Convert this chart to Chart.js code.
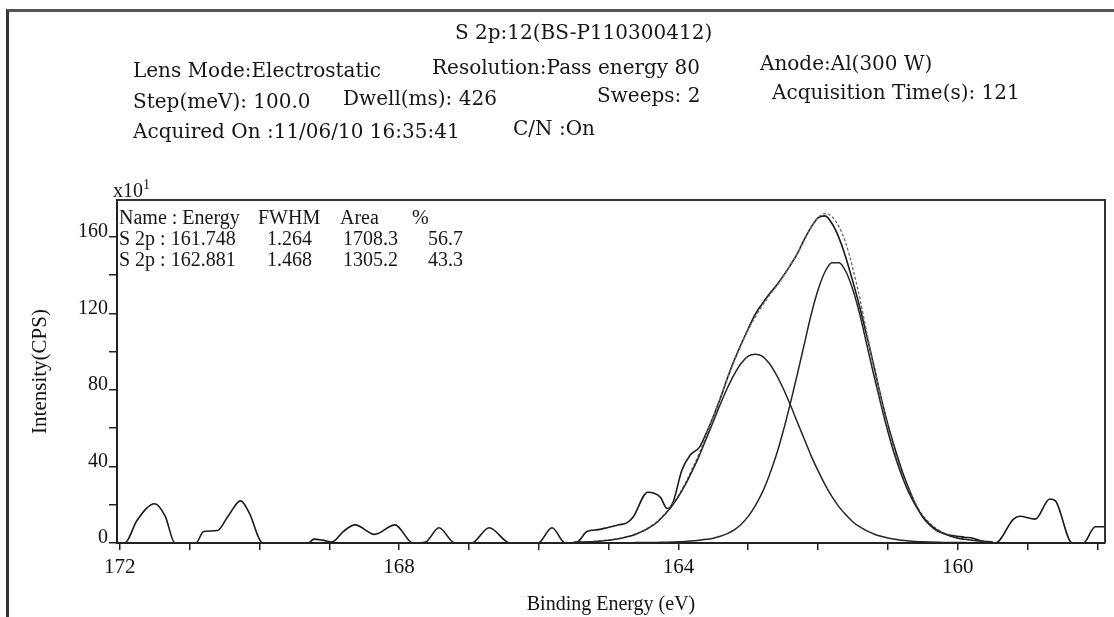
<!DOCTYPE html>
<html>
<head>
<meta charset="UTF-8">
<title>S 2p XPS spectrum</title>
<style>
    html, body {
        margin: 0;
        padding: 0;
        background: #fff;
    }
    body {
        width: 1114px;
        height: 617px;
        position: relative;
        overflow: hidden;
        font-family: 'Liberation Serif', 'DejaVu Serif', serif;
        color: #161616;
    }
    #frame {
        position: absolute;
        left: 6px;
        top: 9px;
        width: 1120px;
        height: 620px;
        border-top: 3px solid #555;
        border-left: 3px solid #333;
    }
    .t {
        position: absolute;
        white-space: nowrap;
        font-family: 'DejaVu Serif', serif;
        font-size: 20px;
        line-height: 1;
    }
    .n {
        position: absolute;
        white-space: nowrap;
        font-size: 20px;
        line-height: 1;
    }
    #chartBox {
        position: absolute;
        left: 0;
        top: 0;
    }
</style>
<script src="https://cdn.jsdelivr.net/npm/chart.js"></script>
</head>
<body>

<div id="frame"></div>

<div id="chartBox">
    <canvas id="xpsChart" width="1114" height="617"></canvas>
</div>

<!-- acquisition header -->
<div class="t" style="left:455px; top:22px;">S 2p:12(BS-P110300412)</div>
<div class="t" style="left:133px; top:60px;">Lens Mode:Electrostatic</div>
<div class="t" style="left:432px; top:57px;">Resolution:Pass energy 80</div>
<div class="t" style="left:760px; top:53px;">Anode:Al(300 W)</div>
<div class="t" style="left:133px; top:91px;">Step(meV): 100.0</div>
<div class="t" style="left:343px; top:88px;">Dwell(ms): 426</div>
<div class="t" style="left:597px; top:85px;">Sweeps: 2</div>
<div class="t" style="left:772px; top:82px;">Acquisition Time(s): 121</div>
<div class="t" style="left:133px; top:121px;">Acquired On :11/06/10 16:35:41</div>
<div class="t" style="left:513px; top:118px;">C/N :On</div>

<div class="n" style="left:113px; top:178px;">x10<sup style="font-size:14px;">1</sup></div>

<!-- peak table -->
<div class="n" style="left:119px; top:207px;">Name : Energy</div>
<div class="n" style="left:258px; top:207px;">FWHM</div>
<div class="n" style="left:340px; top:207px;">Area</div>
<div class="n" style="left:412px; top:207px;">%</div>
<div class="n" style="left:119px; top:228px;">S 2p : 161.748</div>
<div class="n" style="left:267px; top:228px;">1.264</div>
<div class="n" style="left:343px; top:228px;">1708.3</div>
<div class="n" style="left:428px; top:228px;">56.7</div>
<div class="n" style="left:119px; top:249px;">S 2p : 162.881</div>
<div class="n" style="left:267px; top:249px;">1.468</div>
<div class="n" style="left:343px; top:249px;">1305.2</div>
<div class="n" style="left:428px; top:249px;">43.3</div>

<script>
// measured spectrum (binding energy in eV, counts x10)
const rawEnergy = [
    172.04, 171.93, 171.75, 171.5, 171.35, 171.21, 170.91, 170.8, 170.6, 170.45,
    170.27, 170.15, 169.95, 169.3, 169.22, 169.1, 168.96, 168.8, 168.63, 168.35,
    168.06, 167.8, 167.62, 167.43, 167.2, 166.96, 166.71, 166.41, 166.01, 165.81,
    165.62, 165.45, 165.31, 165.15, 165.02, 164.85, 164.74, 164.65, 164.44, 164.26,
    164.16, 164.08, 163.95, 163.83, 163.7, 163.6, 163.5, 163.4, 163.3, 163.2,
    163.1, 163.0, 162.9, 162.8, 162.7, 162.6, 162.5, 162.4, 162.3, 162.2,
    162.1, 162.0, 161.9, 161.8, 161.7, 161.6, 161.5, 161.4, 161.3, 161.2,
    161.1, 161.0, 160.9, 160.8, 160.7, 160.6, 160.5, 160.4, 160.3, 160.2,
    160.1, 160.0, 159.9, 159.78, 159.62, 159.46, 159.2, 159.11, 158.89, 158.68,
    158.6, 158.36, 158.2, 158.03, 157.89
];
const rawCounts = [
    0, 0, 12, 20.5, 14, 0, 0, 6, 6.5, 14,
    22, 16, 0, 0, 2, 1.5, 0.5, 6, 9.5, 4.5,
    9.5, 0, 0.5, 8, 0, 0, 8, 0, 0, 8,
    0, 0.5, 6, 7, 8, 9.5, 10.5, 13.5, 26.5, 24,
    18, 21, 38, 46, 50, 57.5, 66, 75.5, 86, 95.5,
    104, 112, 119.5, 125, 130, 134.5, 139.5, 145, 151, 158.5,
    165, 170, 171, 167, 159.5, 149, 136.5, 123, 108, 92.5,
    76.5, 62, 49.5, 38, 28.5, 20, 13.5, 9.5, 6.5, 5,
    4, 3.5, 3, 2.5, 0.5, 0, 12.5, 14, 12.5, 23,
    22, 0, 0, 8.5, 8.5
];

// fitted curves
const fitEnergy = [
    165.5, 165.4, 165.3, 165.2, 165.1, 165.0, 164.9, 164.8, 164.7, 164.6,
    164.5, 164.4, 164.3, 164.2, 164.1, 164.0, 163.9, 163.8, 163.7, 163.6,
    163.5, 163.4, 163.3, 163.2, 163.1, 163.0, 162.9, 162.8, 162.7, 162.6,
    162.5, 162.4, 162.3, 162.2, 162.1, 162.0, 161.9, 161.8, 161.7, 161.6,
    161.5, 161.4, 161.3, 161.2, 161.1, 161.0, 160.9, 160.8, 160.7, 160.6,
    160.5, 160.4, 160.3, 160.2, 160.1, 160.0, 159.9, 159.8, 159.7, 159.6,
    159.5
];
const peak1 = [   // S 2p 161.748
    0, 0, 0, 0, 0.1, 0.1, 0.1, 0.1, 0.1, 0.2,
    0.2, 0.2, 0.3, 0.4, 0.5, 0.6, 0.8, 1.1, 1.4, 1.9,
    2.5, 3.5, 4.9, 6.9, 9.8, 13.9, 19.4, 26.3, 35.2, 45.7,
    58.3, 72.5, 87.7, 103.4, 119.2, 132.3, 141.8, 146.5, 146.5, 141.8,
    132.3, 119.2, 103.4, 87.7, 72.5, 58.3, 45.7, 35.2, 26.3, 19.4,
    13.9, 9.8, 6.9, 4.9, 3.5, 2.5, 1.9, 1.4, 1.1, 0.8,
    0.6
];
const peak2 = [   // S 2p 162.881
    0.4, 0.5, 0.6, 0.8, 1.1, 1.5, 1.9, 2.6, 3.5, 4.7,
    6.3, 8.4, 11, 14.7, 18.9, 24.2, 30.5, 37.8, 45.7, 54.6,
    63.5, 72.5, 80.9, 88.2, 94, 97.7, 98.7, 97.7, 94, 88.2,
    80.9, 72.5, 63.5, 54.6, 45.7, 37.8, 30.5, 24.2, 18.9, 14.7,
    11, 8.4, 6.3, 4.7, 3.5, 2.6, 1.9, 1.5, 1.1, 0.8,
    0.6, 0.5, 0.4, 0.3, 0.3, 0.2, 0.2, 0.1, 0.1, 0.1,
    0.1
];
const envelope = [
    0.4, 0.5, 0.6, 0.8, 1.2, 1.6, 2.0, 2.7, 3.6, 4.9,
    6.5, 8.6, 11.3, 15, 19.4, 24.8, 31.3, 38.9, 47, 56.5,
    66, 75.9, 85.8, 95.1, 103.7, 111.5, 118.1, 123.9, 129.2, 133.9,
    139.1, 144.9, 151.2, 158, 164.9, 170.1, 172.2, 170.6, 165.4, 156.5,
    143.3, 127.6, 109.7, 92.4, 75.9, 60.9, 47.6, 36.6, 27.3, 20.3,
    14.5, 10.3, 7.4, 5.3, 3.8, 2.7, 2.1, 1.5, 1.2, 0.9,
    0.7
];
const baseEnergy = [172.04, 157.89];
const baseCounts = [0, 0];

const xMajorLabels = [172, 168, 164, 160];
const yMajorLabels = [0, 40, 80, 120, 160];

function pts(xs, ys) {
    return xs.map((x, i) => ({ x: x, y: ys[i] }));
}

const boxPlugin = {
    id: 'box',
    afterDraw(chart) {
        const { ctx, chartArea: a } = chart;
        ctx.save();
        ctx.strokeStyle = '#333';
        ctx.lineWidth = 2;
        ctx.beginPath();
        ctx.moveTo(a.left, a.top);
        ctx.lineTo(a.right, a.top);
        ctx.lineTo(a.right, a.bottom);
        ctx.stroke();
        ctx.restore();
    }
};

const serif = 'Liberation Serif';
const ctx = document.getElementById('xpsChart').getContext('2d');

const xpsChart = new Chart(ctx, {
    type: 'line',
    data: {
        datasets: [
            {
                label: 'baseline',
                data: pts(baseEnergy, baseCounts),
                borderColor: '#222',
                borderWidth: 2
            },
            {
                label: 'S 2p 162.881',
                data: pts(fitEnergy, peak2),
                borderColor: '#262626',
                borderWidth: 1.5
            },
            {
                label: 'S 2p 161.748',
                data: pts(fitEnergy, peak1),
                borderColor: '#262626',
                borderWidth: 1.5
            },
            {
                label: 'envelope',
                data: pts(fitEnergy, envelope),
                borderColor: '#6a6a6a',
                borderWidth: 1.3,
                borderDash: [3, 2]
            },
            {
                label: 'raw',
                data: pts(rawEnergy, rawCounts),
                borderColor: '#1a1a1a',
                borderWidth: 1.6
            }
        ]
    },
    options: {
        responsive: false,
        animation: false,
        layout: {
            padding: { top: 200, right: 9, left: 0, bottom: 0 }
        },
        elements: {
            point: { radius: 0 },
            line: { cubicInterpolationMode: 'monotone', fill: false }
        },
        plugins: {
            legend: { display: false },
            tooltip: { enabled: false }
        },
        scales: {
            x: {
                type: 'linear',
                reverse: true,
                min: 157.89,
                max: 172.04,
                border: { display: true, color: '#222', width: 2 },
                grid: { drawOnChartArea: false, drawTicks: true, tickLength: 7, color: '#222', lineWidth: 1.5 },
                ticks: {
                    autoSkip: false,
                    maxRotation: 0,
                    padding: 5,
                    color: '#111',
                    font: { family: serif, size: 21 },
                    callback: v => xMajorLabels.includes(v) ? String(v) : ''
                },
                afterBuildTicks: s => {
                    const t = [];
                    for (let v = Math.ceil(s.min); v <= Math.floor(s.max); v++) t.push({ value: v });
                    s.ticks = t;
                },
                afterFit: s => { s.height = 74; },
                title: {
                    display: true,
                    text: 'Binding Energy (eV)',
                    color: '#111',
                    font: { family: serif, size: 20 },
                    padding: { top: 0, bottom: 0 }
                }
            },
            y: {
                min: 0,
                max: 179.3,
                border: { display: true, color: '#222', width: 2 },
                grid: { drawOnChartArea: false, drawTicks: true, tickLength: 8, color: '#222', lineWidth: 1.5 },
                ticks: {
                    padding: 1,
                    labelOffset: -5,
                    color: '#111',
                    font: { family: serif, size: 20 },
                    callback: v => yMajorLabels.includes(v) ? String(v) : ''
                },
                afterBuildTicks: s => {
                    const t = [];
                    for (let v = 0; v <= s.max; v += 20) t.push({ value: v });
                    s.ticks = t;
                },
                afterFit: s => { s.width = 117; },
                title: {
                    display: true,
                    text: 'Intensity(CPS)',
                    color: '#111',
                    font: { family: serif, size: 21 },
                    padding: { top: 28, bottom: 0 }
                }
            }
        }
    },
    plugins: [boxPlugin]
});
</script>

</body>
</html>
